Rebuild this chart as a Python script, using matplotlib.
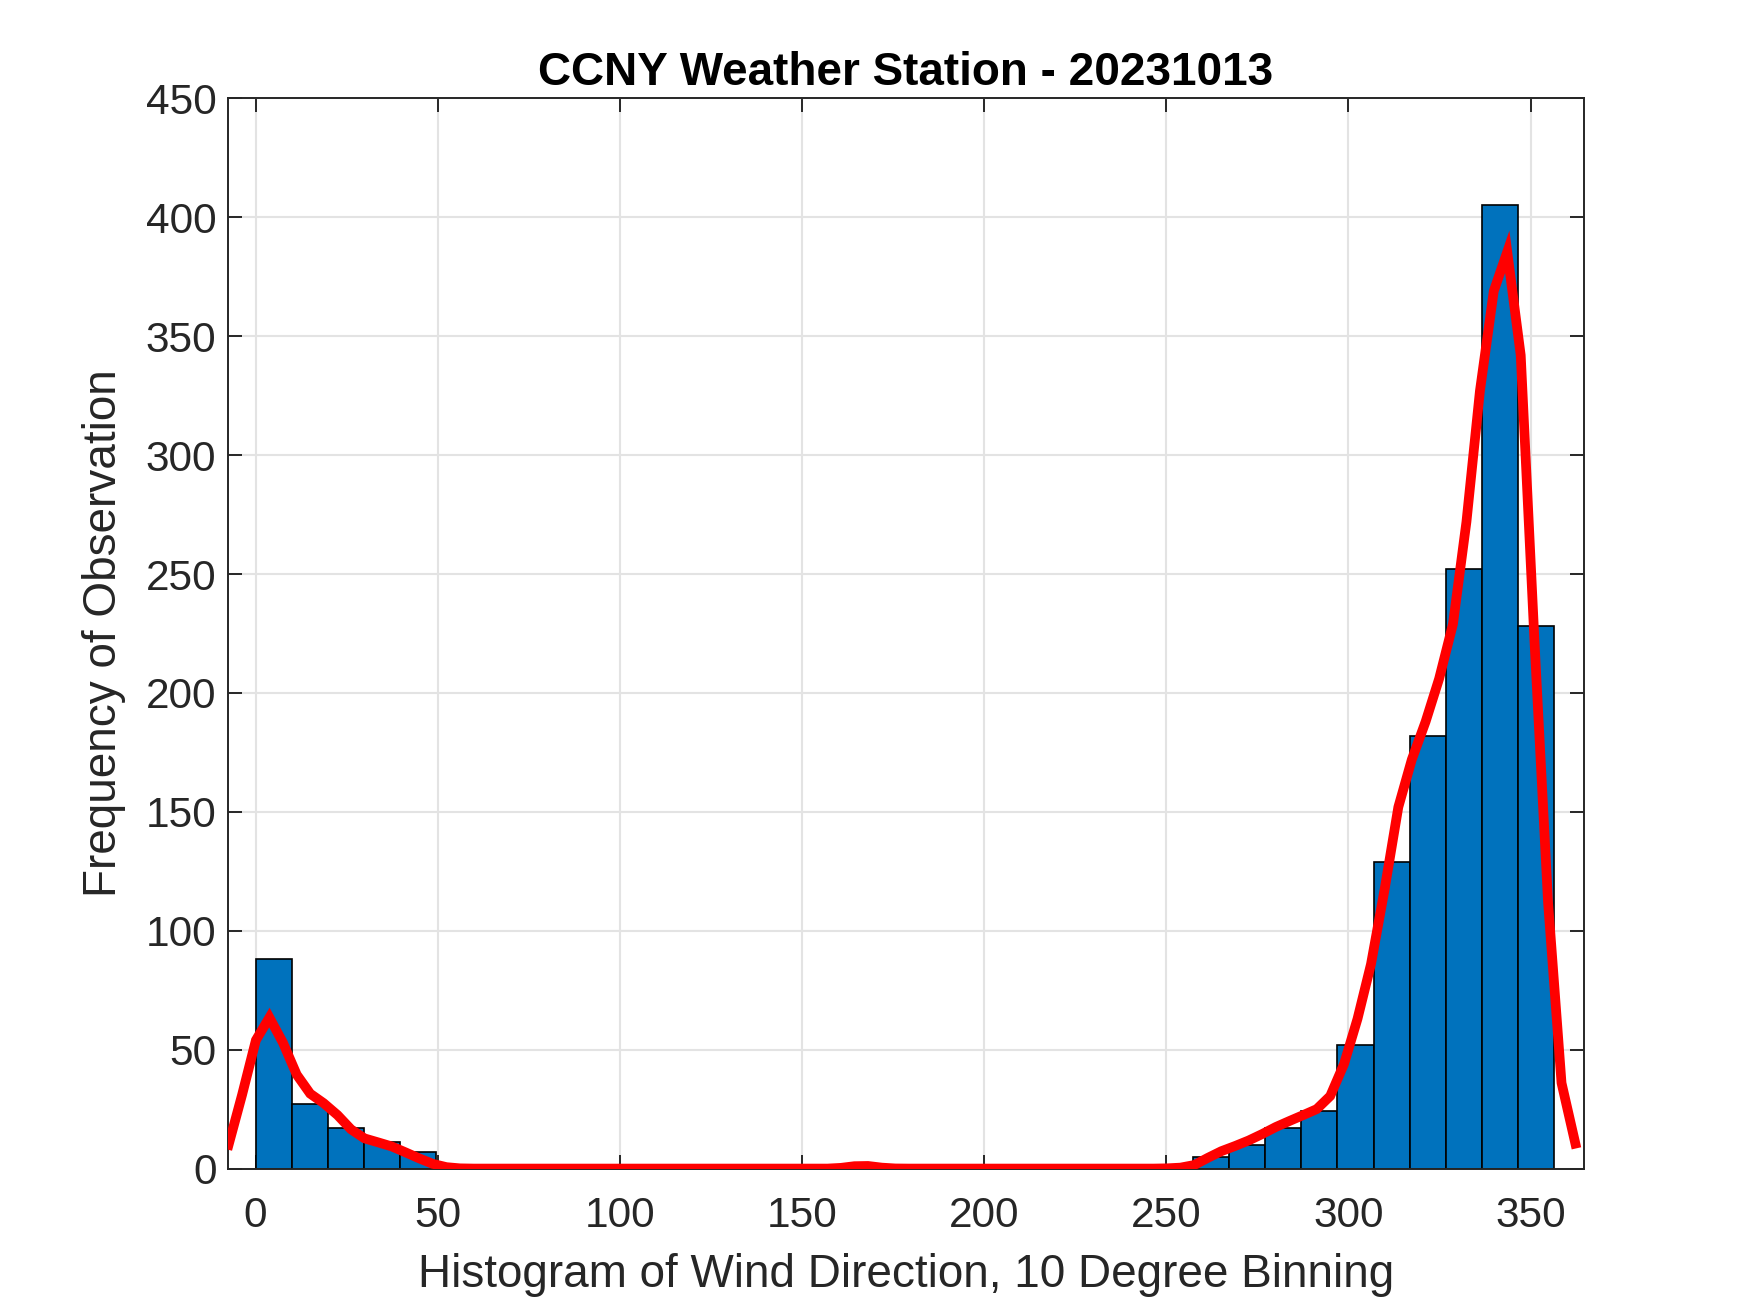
import numpy as np
import matplotlib
matplotlib.use('Agg')
import matplotlib.pyplot as plt

plt.rcParams['font.family'] = ['Liberation Sans', 'DejaVu Sans']

# 36 bins, 9.9 degrees wide, starting at 0
bin_start = 0.0
bin_width = 9.9
counts = [88, 27, 17, 11, 7, 0, 0, 0, 0, 0,
          0, 0, 0, 0, 0, 0, 1, 0, 0, 0,
          0, 0, 0, 0, 0, 0, 5, 10, 17, 24,
          52, 129, 182, 252, 405, 228]

# smoothed density curve (scaled to counts)
curve_x = [-7.4, -3.7, 0.1, 3.8, 7.5, 11.3, 15.0, 18.7, 22.5, 26.2,
           29.9, 33.7, 37.4, 41.2, 44.9, 48.6, 52.4, 56.1, 59.9,
           157.0, 160.7, 164.4, 168.1, 171.9, 175.6, 179.3,
           246.5, 250.2, 253.9, 257.7, 261.4, 265.1, 268.9, 272.6, 276.3,
           280.1, 283.8, 287.6, 291.3, 295.0, 298.8, 302.5, 306.2, 310.0,
           313.7, 317.4, 321.2, 324.9, 328.7, 332.4, 336.1, 339.9, 343.6,
           347.3, 351.1, 354.8, 358.5, 362.3]
curve_y = [10, 31, 54, 63.5, 53, 39.5, 31.5, 27.5, 22.5, 16.5,
           12.7, 11, 9.3, 6.8, 4.3, 2, 0.6, 0.1, 0,
           0, 0.3, 1.0, 1.1, 0.4, 0.05, 0,
           0, 0.1, 0.4, 1.5, 4.5, 7.3, 9.5, 11.8, 14.5,
           17.5, 20, 22.5, 25, 30.5, 44, 63, 86, 118,
           152, 172, 188, 206, 229, 272, 327, 369, 385.5,
           342, 221, 112, 36, 10.5]

edges = bin_start + bin_width * np.arange(len(counts) + 1)

fig = plt.figure(figsize=(17.5, 13.13), dpi=100)
ax = fig.add_axes([0.13, 0.11, 0.775, 0.815])

ax.bar(edges[:-1], counts, width=bin_width, align='edge',
       color='#0072BD', edgecolor='black', linewidth=1.2, zorder=2)
ax.plot(curve_x, curve_y, color='red', linewidth=7, zorder=3,
        solid_joinstyle='miter')

ax.set_xlim(-7.7, 364.6)
ax.set_ylim(0, 450)
ax.set_xticks(np.arange(0, 351, 50))
ax.set_yticks(np.arange(0, 451, 50))

gray = '#262626'
ax.grid(True, color='#e3e3e3', linewidth=1.5, zorder=0)
ax.set_axisbelow(True)
ax.tick_params(direction='in', length=10, width=1.4, colors=gray,
               labelsize=30.5, top=True, right=True, pad=8)
ax.tick_params(axis='x', pad=20)
for s in ax.spines.values():
    s.set_color(gray)
    s.set_linewidth(1.4)

ax.set_xlabel('Histogram of Wind Direction, 10 Degree Binning',
              fontsize=33, color=gray, labelpad=12)
ax.set_ylabel('Frequency of Observation', fontsize=33, color=gray,
              labelpad=14)
ax.set_title('CCNY Weather Station - 20231013', fontsize=33,
             fontweight='bold', color='black', pad=10)

fig.savefig('out.png', dpi=100)
